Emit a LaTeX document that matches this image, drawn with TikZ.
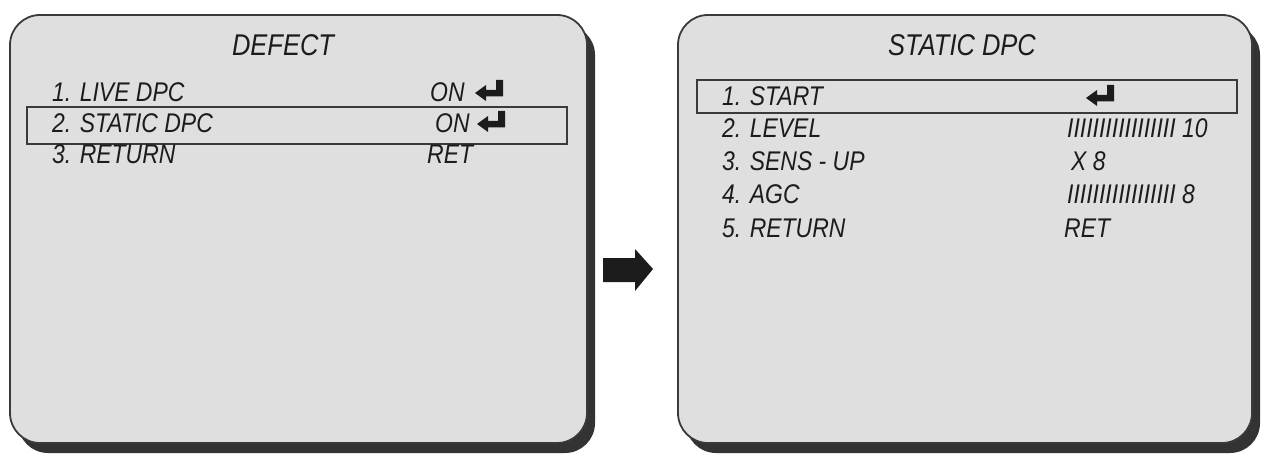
\documentclass[tikz,border=0pt]{standalone}
\usepackage{fontspec}
\setmainfont[FakeStretch=0.85]{Liberation Sans}
\usetikzlibrary{shadows}
\definecolor{panelfill}{HTML}{DFDFDF}
\definecolor{panelline}{HTML}{3A3A3A}
\definecolor{shadowcol}{HTML}{333333}
\definecolor{inkcol}{HTML}{1C1C1C}
\begin{document}
\begin{tikzpicture}[x=1pt,y=-1pt,
  panel/.style={draw=panelline, line width=1.8pt, fill=panelfill, rounded corners=30pt,
    inner sep=0pt, minimum width=#1, minimum height=428pt,
    drop shadow={shadow xshift=8pt, shadow yshift=-10pt, opacity=1, fill=shadowcol}},
  selbox/.style={draw=panelline, line width=1.8pt, inner sep=0pt, minimum width=#1, minimum height=34pt},
  title/.style={font=\fontsize{30}{34}\selectfont\itshape, text=inkcol, inner sep=0pt, anchor=base},
  item/.style={font=\fontsize{27}{30}\selectfont\itshape, text=inkcol, inner sep=0pt, anchor=base west},
  enterkey/.pic={\fill[inkcol] (0,0) -- (11,-8) -- (11,-3) -- (21,-3) -- (21,-13) -- (28,-13)
      -- (28,3.5) -- (11,3.5) -- (11,8) -- cycle;}
]
\useasboundingbox (0,0) rectangle (1268,457);
% panels
\node[panel=577pt] (left) at (298.5,229) {};
\node[panel=574pt] (right) at (965,229) {};
% selection boxes
\node[selbox=540pt, minimum height=37pt] (selL) at (297,125.5) {};
\node[selbox=540pt, minimum height=33pt] (selR) at (967,96.5) {};
% left panel text
\node[title] (tL) at (283,56) {DEFECT};
\node[item] (l1) at (52,102) {1. LIVE DPC};
\node[item] (l1v) at (430,102) {ON};
\pic at (475,93) {enterkey};
\node[item] (l2) at (52,133) {2. STATIC DPC};
\node[item] (l2v) at (435,133) {ON};
\pic at (477,124) {enterkey};
\node[item] (l3) at (52,164) {3. RETURN};
\node[item] (l3v) at (427,164) {RET};
% right panel text
\node[title] (tR) at (962,56) {STATIC DPC};
\node[item] (r1) at (722,106) {1. START};
\pic at (1086,98) {enterkey};
\node[item] (r2) at (722,138) {2. LEVEL};
\node[item] (r2v) at (1067,138) {IIIIIIIIIIIIIIIII 10};
\node[item] (r3) at (722,171) {3. SENS - UP};
\node[item] (r3v) at (1071,171) {X 8};
\node[item] (r4) at (722,204) {4. AGC};
\node[item] (r4v) at (1067,204) {IIIIIIIIIIIIIIIII 8};
\node[item] (r5) at (722,237) {5. RETURN};
\node[item] (r5v) at (1064,237) {RET};
% block arrow between panels
\fill[inkcol] (603,258) -- (635,258) -- (635,249) -- (653,269) -- (635,291) -- (635,282) -- (603,282) -- cycle;
\end{tikzpicture}
\end{document}
